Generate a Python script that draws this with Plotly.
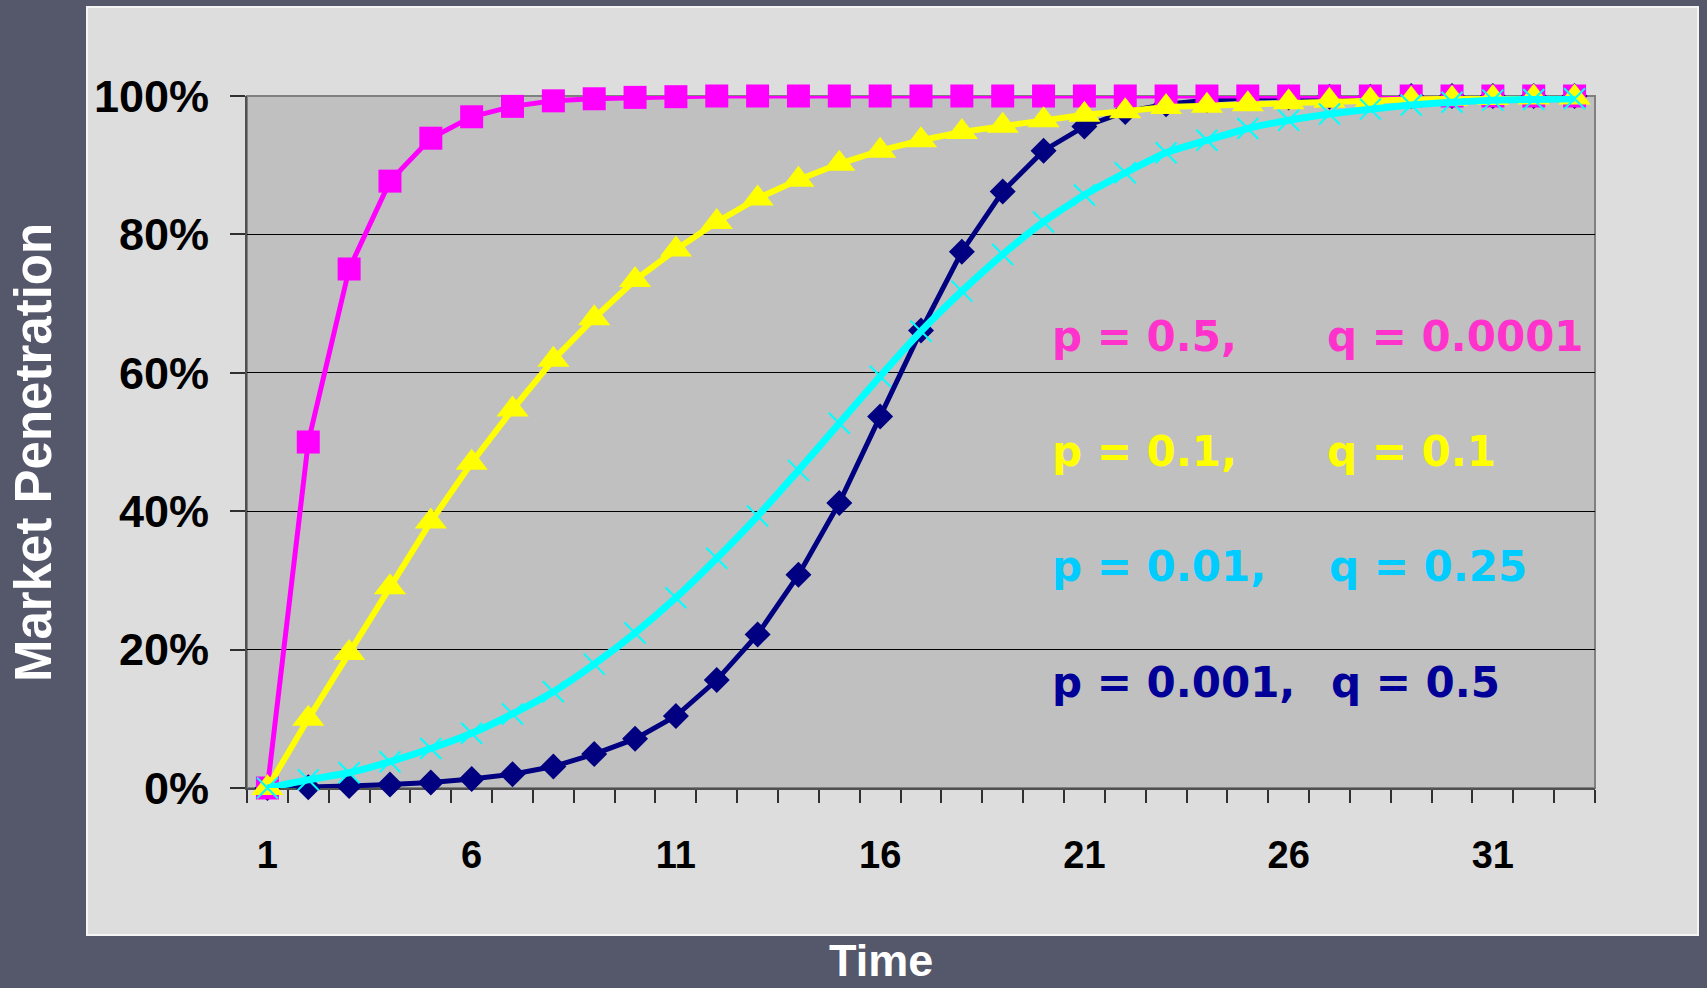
import plotly.graph_objects as go

# ---------------- data ----------------
time = list(range(1, 34))
tick_vals = [1, 6, 11, 16, 21, 26, 31]
y_ticks = [0, 0.2, 0.4, 0.6, 0.8, 1.0]
y_tick_text = ["0%", "20%", "40%", "60%", "80%", "100%"]

s_navy = [0, 0.001, 0.003, 0.005, 0.008, 0.013, 0.020, 0.031, 0.049, 0.071, 0.104,
          0.156, 0.222, 0.308, 0.412, 0.537, 0.661, 0.775, 0.862, 0.921, 0.956,
          0.977, 0.988, 0.994, 0.997, 0.998, 0.999, 0.999, 1.0, 1.0, 1.0, 1.0, 1.0]
s_magenta = [0, 0.50, 0.75, 0.877, 0.939, 0.970, 0.985, 0.993, 0.996, 0.998, 0.999,
             1.0, 1.0, 1.0, 1.0, 1.0, 1.0, 1.0, 1.0, 1.0, 1.0, 1.0, 1.0, 1.0, 1.0,
             1.0, 1.0, 1.0, 1.0, 1.0, 1.0, 1.0, 1.0]
s_yellow = [0, 0.10, 0.195, 0.29, 0.385, 0.47, 0.547, 0.619, 0.679, 0.734, 0.778,
            0.818, 0.852, 0.879, 0.902, 0.921, 0.936, 0.948, 0.957, 0.965, 0.973,
            0.978, 0.984, 0.986, 0.988, 0.991, 0.993, 0.994, 0.995, 0.996, 0.997,
            0.998, 0.998]
s_cyan = [0, 0.012, 0.022, 0.038, 0.057, 0.079, 0.107, 0.139, 0.179, 0.224, 0.275,
          0.332, 0.393, 0.459, 0.527, 0.595, 0.660, 0.718, 0.771, 0.818, 0.857,
          0.889, 0.918, 0.936, 0.953, 0.965, 0.974, 0.981, 0.987, 0.991, 0.994,
          0.995, 0.996]

labels = [
    ("p = 0.5,", "q = 0.0001", "#FF33CC"),
    ("p = 0.1,", "q = 0.1", "#FFFF00"),
    ("p = 0.01,", "q = 0.25", "#00CCFF"),
    ("p = 0.001,", "q = 0.5", "#000099"),
]

# ---------------- geometry (pixels) ----------------
W_FIG, H_FIG = 1707, 988
L, R, T, B = 247, 1595, 96, 788
PW, PH = R - L, B - T


def px(x):
    return (x - L) / PW


def py(y):
    return (B - y) / PH


ARIAL = "Arial, Liberation Sans, sans-serif"
WIDE = "DejaVu Sans, Verdana, sans-serif"

fig = go.Figure()

fig.add_trace(go.Scatter(x=time, y=s_navy, mode="lines+markers", cliponaxis=False,
                         line=dict(color="#000080", width=5),
                         marker=dict(symbol="diamond", size=20, color="#000080")))
fig.add_trace(go.Scatter(x=time, y=s_magenta, mode="lines+markers", cliponaxis=False,
                         line=dict(color="#FF00FF", width=5),
                         marker=dict(symbol="square", size=23, color="#FF00FF")))
fig.add_trace(go.Scatter(x=time, y=s_yellow, mode="lines+markers", cliponaxis=False,
                         line=dict(color="#FFFF00", width=6),
                         marker=dict(symbol="triangle-up", size=28, color="#FFFF00")))
fig.add_trace(go.Scatter(x=time, y=s_cyan, mode="lines+markers", cliponaxis=False,
                         line=dict(color="#00FFFF", width=7, shape="spline", smoothing=0.5),
                         marker=dict(symbol="x-thin-open", size=21,
                                     line=dict(color="#00FFFF", width=2))))

shapes = [
    # light panel
    dict(type="rect", xref="paper", yref="paper", layer="below",
         x0=px(87), x1=px(1698), y0=py(935), y1=py(7),
         fillcolor="#DDDDDD", line=dict(color="#F4F4F4", width=2)),
    # plot area
    dict(type="rect", xref="x domain", yref="y domain", layer="below",
         x0=0, x1=1, y0=0, y1=1,
         fillcolor="#C0C0C0", line=dict(color="#808080", width=2)),
]

annotations = [
    dict(text="Market Penetration", xref="paper", yref="paper", x=px(33), y=py(452),
         textangle=-90, showarrow=False, xanchor="center", yanchor="middle",
         font=dict(family=ARIAL, size=51, color="white", weight="bold")),
    dict(text="Time", xref="paper", yref="paper", x=px(881), y=py(960),
         showarrow=False, xanchor="center", yanchor="middle",
         font=dict(family=ARIAL, size=45, color="white", weight="bold")),
]
line_y = [336, 451, 566, 682]
q_x = [1325, 1325, 1327, 1329]
for (ptxt, qtxt, col), yy, qx in zip(labels, line_y, q_x):
    annotations.append(dict(text=ptxt, xref="paper", yref="paper", x=px(1050), y=py(yy),
                            showarrow=False, xanchor="left", yanchor="middle",
                            font=dict(family=WIDE, size=42, color=col, weight="bold")))
    annotations.append(dict(text=qtxt, xref="paper", yref="paper", x=px(qx), y=py(yy),
                            showarrow=False, xanchor="left", yanchor="middle",
                            font=dict(family=WIDE, size=42, color=col, weight="bold")))

fig.update_layout(
    width=W_FIG, height=H_FIG, autosize=False,
    margin=dict(l=L, r=W_FIG - R, t=T, b=H_FIG - B, pad=0),
    paper_bgcolor="#55576A", plot_bgcolor="rgba(0,0,0,0)",
    showlegend=False,
    shapes=shapes, annotations=annotations,
    xaxis=dict(range=[0.5, 33.5], tickvals=tick_vals, ticktext=[str(v) for v in tick_vals],
               ticks="", showgrid=False, zeroline=False,
               showline=True, linecolor="#505050", linewidth=2, layer="below traces",
               tickfont=dict(family=ARIAL, size=38, color="black", weight="bold"),
               ticklabelstandoff=32,
               minor=dict(tickvals=[v + 0.5 for v in range(0, 34)], ticks="outside",
                          ticklen=13, tickwidth=1.5, tickcolor="#303030", showgrid=False)),
    yaxis=dict(range=[0, 1], tickvals=y_ticks, ticktext=y_tick_text,
               ticks="outside", ticklen=15, tickwidth=1.5, tickcolor="#303030",
               showgrid=False, zeroline=False,
               showline=True, linecolor="#505050", linewidth=2, layer="below traces",
               tickfont=dict(family=ARIAL, size=45, color="black", weight="bold"),
               ticklabelstandoff=12,
               minor=dict(tickvals=[0.2, 0.4, 0.6, 0.8], ticks="", showgrid=True,
                          gridcolor="#000000", gridwidth=1.2)),
)

fig.write_html("out.html")
